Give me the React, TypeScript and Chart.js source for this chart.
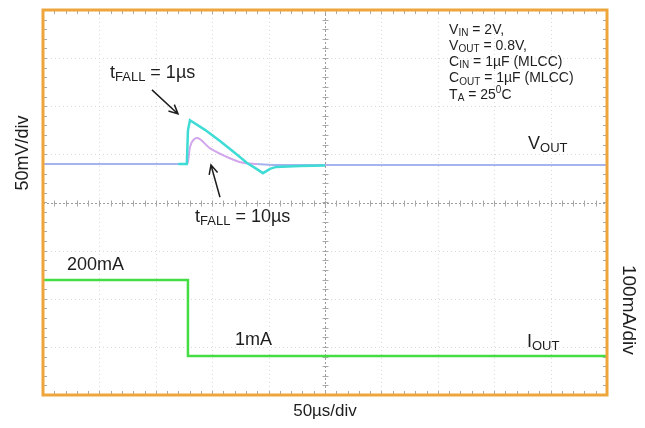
import React, { useEffect, useRef } from "react";
import { Chart, registerables } from "chart.js";
Chart.register(...registerables);

// ---- data (x in µs, y in screen divisions, 0..8) ----
const X_MIN = 0;
const X_MAX = 500; // 10 div × 50 µs
const Y_MIN = 0;
const Y_MAX = 8;

// V_OUT, tFALL = 1 µs (cyan)
const vout1usTime = [120, 127.5, 128.5, 130.3, 143.6, 156.9, 170.2, 180.9, 187.9, 195.0, 201.2, 206.6, 227.8, 250];
const vout1usDiv = [4.8, 4.8, 5.5, 5.71, 5.51, 5.28, 5.03, 4.82, 4.72, 4.61, 4.7, 4.74, 4.76, 4.77];

// V_OUT, tFALL = 10 µs (violet) – full trace
const vout10usTime = [0, 127.5, 128.5, 130.3, 133.9, 136.5, 147.9, 165.6, 176.3, 190.0, 205.0, 300, 500];
const vout10usDiv = [4.8, 4.8, 4.84, 5.15, 5.31, 5.34, 5.13, 4.92, 4.83, 4.8, 4.78, 4.78, 4.78];

// I_OUT (green), step 200 mA -> 1 mA
const ioutTime = [0, 128.5, 500];
const ioutDiv = [2.39, 0.81, 0.81];

const X_GRID_STEP = 50;
const Y_GRID_STEP = 1;

const FONT = '"Liberation Sans", Arial, sans-serif';

type Part = { t: string; s?: "sub" | "sup" };
type Note = { parts: Part[]; x: number; y: number; size: number };

const notes: Note[] = [
  { parts: [{ t: "t" }, { t: "FALL", s: "sub" }, { t: " = 1µs" }], x: 59.4, y: 6.69, size: 18 },
  { parts: [{ t: "t" }, { t: "FALL", s: "sub" }, { t: " = 10µs" }], x: 134.8, y: 3.7, size: 18 },
  { parts: [{ t: "V" }, { t: "OUT", s: "sub" }], x: 430, y: 5.22, size: 18 },
  { parts: [{ t: "200mA" }], x: 21.3, y: 2.7, size: 18 },
  { parts: [{ t: "1mA" }], x: 170.2, y: 1.14, size: 18 },
  { parts: [{ t: "I" }, { t: "OUT", s: "sub" }], x: 429, y: 1.1, size: 18 },
  { parts: [{ t: "V" }, { t: "IN", s: "sub" }, { t: " = 2V," }], x: 360, y: 7.58, size: 14 },
  { parts: [{ t: "V" }, { t: "OUT", s: "sub" }, { t: " = 0.8V," }], x: 360, y: 7.25, size: 14 },
  { parts: [{ t: "C" }, { t: "IN", s: "sub" }, { t: " = 1µF (MLCC)" }], x: 360, y: 6.92, size: 14 },
  { parts: [{ t: "C" }, { t: "OUT", s: "sub" }, { t: " = 1µF (MLCC)" }], x: 360, y: 6.58, size: 14 },
  { parts: [{ t: "T" }, { t: "A", s: "sub" }, { t: " = 25" }, { t: "0", s: "sup" }, { t: "C" }], x: 360, y: 6.24, size: 14 },
];

const arrows = [
  { x0: 96.6, y0: 6.34, x1: 119.7, y1: 5.84 },
  { x0: 156.9, y0: 4.11, x1: 148.9, y1: 4.78 },
];

function drawRich(ctx: CanvasRenderingContext2D, parts: Part[], x: number, y: number, size: number) {
  let cx = x;
  for (const p of parts) {
    const fs = p.s ? Math.round(size * 0.7) : size;
    ctx.font = `${fs}px ${FONT}`;
    const dy = p.s === "sub" ? size * 0.25 : p.s === "sup" ? -size * 0.3 : 0;
    ctx.fillText(p.t, cx, y + dy);
    cx += ctx.measureText(p.t).width;
  }
}

const scopePlugin = {
  id: "scope",
  beforeDatasetsDraw(chart: any) {
    const { ctx, chartArea: a, scales } = chart;
    const xs = scales.x;
    const ys = scales.y;
    ctx.save();
    // faint grid
    ctx.strokeStyle = "#dadada";
    ctx.lineWidth = 1;
    ctx.setLineDash([1, 3]);
    for (let v = X_MIN + X_GRID_STEP; v < X_MAX; v += X_GRID_STEP) {
      if (v === (X_MIN + X_MAX) / 2) continue;
      const px = Math.round(xs.getPixelForValue(v)) + 0.5;
      ctx.beginPath();
      ctx.moveTo(px, a.top);
      ctx.lineTo(px, a.bottom);
      ctx.stroke();
    }
    for (let v = Y_MIN + Y_GRID_STEP; v < Y_MAX; v += Y_GRID_STEP) {
      if (v === (Y_MIN + Y_MAX) / 2) continue;
      const py = Math.round(ys.getPixelForValue(v)) + 0.5;
      ctx.beginPath();
      ctx.moveTo(a.left, py);
      ctx.lineTo(a.right, py);
      ctx.stroke();
    }
    // center lines
    const cxp = Math.round(xs.getPixelForValue((X_MIN + X_MAX) / 2)) + 0.5;
    const cyp = Math.round(ys.getPixelForValue((Y_MIN + Y_MAX) / 2)) + 0.5;
    ctx.strokeStyle = "#9c9c9c";
    ctx.setLineDash([2, 2]);
    ctx.beginPath();
    ctx.moveTo(cxp, a.top);
    ctx.lineTo(cxp, a.bottom);
    ctx.moveTo(a.left, cyp);
    ctx.lineTo(a.right, cyp);
    ctx.stroke();
    ctx.setLineDash([]);
    // minor ticks
    ctx.strokeStyle = "#a8a8a8";
    ctx.beginPath();
    for (let v = X_MIN; v <= X_MAX; v += X_GRID_STEP / 5) {
      const px = Math.round(xs.getPixelForValue(v)) + 0.5;
      ctx.moveTo(px, cyp - 3);
      ctx.lineTo(px, cyp + 3);
      ctx.moveTo(px, a.top);
      ctx.lineTo(px, a.top + 4);
      ctx.moveTo(px, a.bottom);
      ctx.lineTo(px, a.bottom - 4);
    }
    for (let v = Y_MIN; v <= Y_MAX + 1e-6; v += Y_GRID_STEP / 5) {
      const py = Math.round(ys.getPixelForValue(v)) + 0.5;
      ctx.moveTo(cxp - 3, py);
      ctx.lineTo(cxp + 3, py);
      ctx.moveTo(a.left, py);
      ctx.lineTo(a.left + 4, py);
      ctx.moveTo(a.right, py);
      ctx.lineTo(a.right - 4, py);
    }
    ctx.stroke();
    ctx.restore();
  },
  afterDatasetsDraw(chart: any) {
    const { ctx, chartArea: a, scales } = chart;
    const xs = scales.x;
    const ys = scales.y;
    ctx.save();
    // frame
    ctx.strokeStyle = "#eea63c";
    ctx.lineWidth = 3;
    ctx.strokeRect(a.left, a.top, a.right - a.left, a.bottom - a.top);

    // notes
    ctx.fillStyle = "#1e1e1e";
    ctx.textBaseline = "middle";
    ctx.textAlign = "left";
    for (const n of notes) {
      drawRich(ctx, n.parts, xs.getPixelForValue(n.x), ys.getPixelForValue(n.y), n.size);
    }
    // arrows
    ctx.strokeStyle = "#1e1e1e";
    ctx.lineWidth = 1.5;
    for (const ar of arrows) {
      const x0 = xs.getPixelForValue(ar.x0);
      const y0 = ys.getPixelForValue(ar.y0);
      const x1 = xs.getPixelForValue(ar.x1);
      const y1 = ys.getPixelForValue(ar.y1);
      const ang = Math.atan2(y1 - y0, x1 - x0);
      const h = 10;
      const w = 0.45;
      ctx.beginPath();
      ctx.moveTo(x0, y0);
      ctx.lineTo(x1, y1);
      ctx.moveTo(x1 - h * Math.cos(ang - w), y1 - h * Math.sin(ang - w));
      ctx.lineTo(x1, y1);
      ctx.lineTo(x1 - h * Math.cos(ang + w), y1 - h * Math.sin(ang + w));
      ctx.stroke();
    }
    // axis titles
    ctx.fillStyle = "#1e1e1e";
    ctx.textAlign = "center";
    ctx.font = `17px ${FONT}`;
    ctx.fillText("50µs/div", (a.left + a.right) / 2, a.bottom + 16);
    ctx.save();
    ctx.translate(a.left - 20, ys.getPixelForValue(5.03));
    ctx.rotate(-Math.PI / 2);
    ctx.font = `18px ${FONT}`;
    ctx.fillText("50mV/div", 0, 0);
    ctx.restore();
    ctx.save();
    ctx.translate(a.right + 21, ys.getPixelForValue(1.77));
    ctx.rotate(Math.PI / 2);
    ctx.font = `19px ${FONT}`;
    ctx.fillText("100mA/div", 0, 0);
    ctx.restore();
    ctx.restore();
  },
};

const VIOLET = "#d2a6ec";
const BASE_BLUE = "#a6b4ee";

export default function App() {
  const ref = useRef<HTMLCanvasElement>(null);
  useEffect(() => {
    if (!ref.current) return;
    const toPts = (xs: number[], ys: number[]) => xs.map((x, i) => ({ x, y: ys[i] }));
    const chart = new Chart(ref.current, {
      type: "line",
      data: {
        datasets: [
          {
            label: "IOUT",
            data: toPts(ioutTime, ioutDiv),
            borderColor: "#44de44",
            borderWidth: 2.5,
            stepped: "before" as any,
            pointRadius: 0,
            order: 3,
          },
          {
            label: "VOUT tFALL=10µs",
            data: toPts(vout10usTime, vout10usDiv),
            borderColor: BASE_BLUE,
            borderWidth: 2,
            pointRadius: 0,
            cubicInterpolationMode: "monotone",
            segment: {
              borderColor: (c: any) =>
                c.p0.parsed.x >= 127.5 && c.p1.parsed.x <= 200 ? VIOLET : BASE_BLUE,
            },
            order: 2,
          },
          {
            label: "VOUT tFALL=1µs",
            data: toPts(vout1usTime, vout1usDiv),
            borderColor: "#3fdcd6",
            borderWidth: 2.5,
            pointRadius: 0,
            tension: 0,
            order: 1,
          },
        ],
      },
      options: {
        animation: false,
        responsive: false,
        maintainAspectRatio: false,
        layout: { padding: { left: 43, top: 10, right: 38, bottom: 33 } },
        plugins: { legend: { display: false }, tooltip: { enabled: false } },
        scales: {
          x: { type: "linear", min: X_MIN, max: X_MAX, display: false },
          y: { type: "linear", min: Y_MIN, max: Y_MAX, display: false },
        },
      },
      plugins: [scopePlugin],
    });
    return () => chart.destroy();
  }, []);
  return (
    <div style={{ position: "absolute", left: 0, top: 0, width: 645, height: 428, background: "#fff" }}>
      <canvas ref={ref} width={645} height={428} />
    </div>
  );
}
